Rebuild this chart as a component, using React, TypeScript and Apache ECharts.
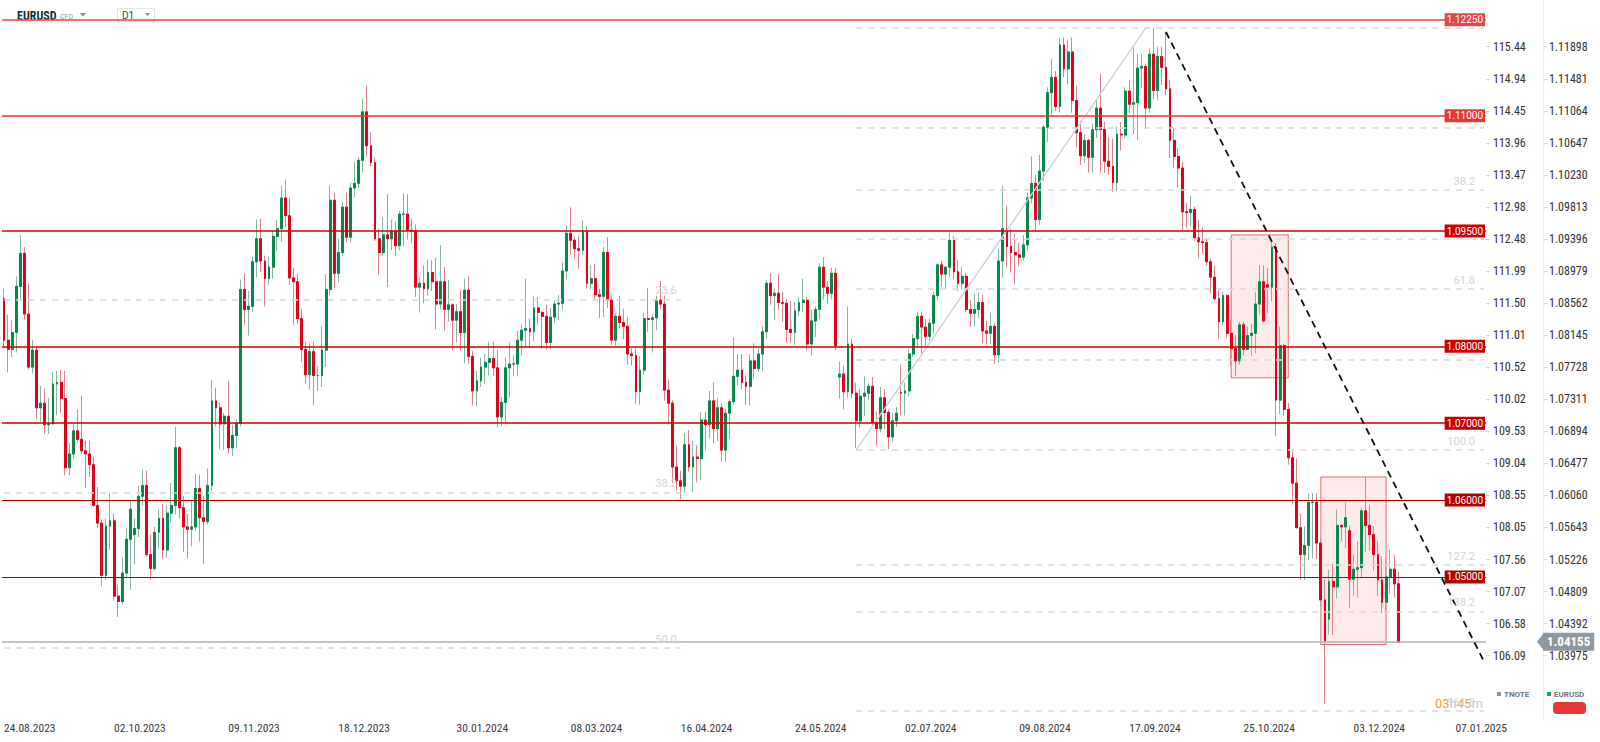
import React, { useEffect, useRef } from 'react';
import * as echarts from 'echarts';

// ---------- categories ----------
const START_DATE = '2023-08-24';
const MARKET_HOLIDAYS = ['2023-12-25', '2024-01-01'];
const FUTURE_SLOTS = 21;

// ---------- candles [open, close, low, high] ----------
const aug23 = [
  [1.0862, 1.0808, 1.0800, 1.0875], [1.0808, 1.0796, 1.0766, 1.0841], [1.0796, 1.0818, 1.0786, 1.0834],
  [1.0818, 1.0878, 1.0792, 1.0891], [1.0878, 1.0921, 1.0860, 1.0945], [1.0921, 1.0842, 1.0835, 1.0929],
];
const sep23 = [
  [1.0842, 1.0773, 1.0770, 1.0882], [1.0773, 1.0795, 1.0765, 1.0808], [1.0795, 1.0720, 1.0705, 1.0800],
  [1.0720, 1.0726, 1.0702, 1.0748], [1.0726, 1.0698, 1.0686, 1.0745], [1.0698, 1.0699, 1.0686, 1.0733],
  [1.0699, 1.0751, 1.0698, 1.0767], [1.0751, 1.0753, 1.0710, 1.0768], [1.0753, 1.0732, 1.0713, 1.0769],
  [1.0732, 1.0642, 1.0632, 1.0768], [1.0642, 1.0660, 1.0632, 1.0674], [1.0660, 1.0690, 1.0653, 1.0699],
  [1.0690, 1.0679, 1.0675, 1.0718], [1.0679, 1.0664, 1.0660, 1.0736], [1.0664, 1.0660, 1.0616, 1.0677],
  [1.0660, 1.0646, 1.0630, 1.0677], [1.0646, 1.0593, 1.0591, 1.0656], [1.0593, 1.0570, 1.0564, 1.0617],
  [1.0570, 1.0502, 1.0488, 1.0575], [1.0502, 1.0566, 1.0496, 1.0576], [1.0566, 1.0573, 1.0535, 1.0609],
];
const oct23 = [
  [1.0573, 1.0475, 1.0469, 1.0582], [1.0475, 1.0468, 1.0448, 1.0490], [1.0468, 1.0505, 1.0464, 1.0525],
  [1.0505, 1.0549, 1.0499, 1.0564], [1.0549, 1.0588, 1.0483, 1.0600], [1.0555, 1.0563, 1.0516, 1.0576],
  [1.0563, 1.0605, 1.0552, 1.0619], [1.0605, 1.0619, 1.0593, 1.0640], [1.0619, 1.0529, 1.0526, 1.0638],
  [1.0529, 1.0511, 1.0496, 1.0555], [1.0511, 1.0558, 1.0508, 1.0565], [1.0558, 1.0576, 1.0536, 1.0588],
  [1.0576, 1.0535, 1.0523, 1.0595], [1.0535, 1.0583, 1.0525, 1.0593], [1.0583, 1.0593, 1.0571, 1.0622],
  [1.0593, 1.0668, 1.0581, 1.0695], [1.0668, 1.0590, 1.0576, 1.0670], [1.0590, 1.0565, 1.0532, 1.0605],
  [1.0565, 1.0562, 1.0524, 1.0582], [1.0562, 1.0565, 1.0540, 1.0600], [1.0565, 1.0615, 1.0560, 1.0634],
  [1.0615, 1.0577, 1.0546, 1.0633],
];
const nov23 = [
  [1.0577, 1.0572, 1.0517, 1.0605], [1.0572, 1.0619, 1.0568, 1.0641], [1.0619, 1.0729, 1.0611, 1.0756],
  [1.0729, 1.0720, 1.0696, 1.0746], [1.0720, 1.0699, 1.0666, 1.0727], [1.0699, 1.0709, 1.0665, 1.0713],
  [1.0709, 1.0668, 1.0661, 1.0755], [1.0668, 1.0684, 1.0657, 1.0698], [1.0684, 1.0700, 1.0668, 1.0705],
  [1.0700, 1.0874, 1.0696, 1.0887], [1.0874, 1.0848, 1.0828, 1.0895], [1.0848, 1.0852, 1.0814, 1.0872],
  [1.0852, 1.0910, 1.0845, 1.0917], [1.0910, 1.0940, 1.0890, 1.0965], [1.0940, 1.0911, 1.0897, 1.0966],
  [1.0911, 1.0888, 1.0852, 1.0918], [1.0888, 1.0903, 1.0880, 1.0917], [1.0903, 1.0943, 1.0888, 1.0951],
  [1.0943, 1.0953, 1.0925, 1.0965], [1.0953, 1.0993, 1.0936, 1.1009], [1.0993, 1.0970, 1.0955, 1.1017],
  [1.0970, 1.0889, 1.0880, 1.0993],
];
const dec23 = [
  [1.0889, 1.0884, 1.0828, 1.0902], [1.0884, 1.0836, 1.0829, 1.0894], [1.0836, 1.0796, 1.0780, 1.0849],
  [1.0796, 1.0763, 1.0752, 1.0805], [1.0763, 1.0793, 1.0744, 1.0804], [1.0793, 1.0762, 1.0723, 1.0806],
  [1.0762, 1.0762, 1.0742, 1.0774], [1.0762, 1.0795, 1.0747, 1.0826], [1.0795, 1.0874, 1.0773, 1.0894],
  [1.0874, 1.0990, 1.0866, 1.1009], [1.0990, 1.0895, 1.0876, 1.1000], [1.0895, 1.0922, 1.0883, 1.0940],
  [1.0922, 1.0981, 1.0917, 1.0988], [1.0981, 1.0942, 1.0935, 1.1000], [1.0942, 1.1006, 1.0935, 1.1013],
  [1.1006, 1.1012, 1.0994, 1.1040], [1.1012, 1.1042, 1.1006, 1.1046], [1.1042, 1.1105, 1.1026, 1.1122],
  [1.1105, 1.1061, 1.1048, 1.1139], [1.1061, 1.1039, 1.1034, 1.1079],
];
const jan24 = [
  [1.1039, 1.0940, 1.0937, 1.1046], [1.0940, 1.0922, 1.0893, 1.0953], [1.0922, 1.0945, 1.0918, 1.0968],
  [1.0945, 1.0940, 1.0877, 1.0998], [1.0940, 1.0950, 1.0925, 1.0965], [1.0950, 1.0931, 1.0917, 1.0962],
  [1.0931, 1.0972, 1.0925, 1.0976], [1.0972, 1.0972, 1.0930, 1.0999], [1.0972, 1.0951, 1.0939, 1.0998],
  [1.0951, 1.0950, 1.0934, 1.0966], [1.0950, 1.0877, 1.0864, 1.0959], [1.0877, 1.0882, 1.0844, 1.0890],
  [1.0882, 1.0875, 1.0856, 1.0905], [1.0875, 1.0896, 1.0866, 1.0913], [1.0896, 1.0884, 1.0872, 1.0912],
  [1.0884, 1.0855, 1.0822, 1.0915], [1.0855, 1.0884, 1.0848, 1.0932], [1.0884, 1.0848, 1.0821, 1.0903],
  [1.0848, 1.0854, 1.0832, 1.0886], [1.0854, 1.0834, 1.0795, 1.0856], [1.0834, 1.0845, 1.0805, 1.0855],
  [1.0845, 1.0818, 1.0795, 1.0873],
];
const feb24 = [
  [1.0818, 1.0873, 1.0778, 1.0888], [1.0873, 1.0787, 1.0777, 1.0891], [1.0787, 1.0742, 1.0723, 1.0794],
  [1.0742, 1.0755, 1.0722, 1.0768], [1.0755, 1.0773, 1.0747, 1.0785], [1.0773, 1.0779, 1.0751, 1.0790],
  [1.0779, 1.0784, 1.0762, 1.0806], [1.0784, 1.0772, 1.0761, 1.0806], [1.0772, 1.0708, 1.0695, 1.0795],
  [1.0708, 1.0727, 1.0696, 1.0734], [1.0727, 1.0772, 1.0701, 1.0785], [1.0772, 1.0777, 1.0733, 1.0805],
  [1.0777, 1.0777, 1.0761, 1.0789], [1.0777, 1.0808, 1.0761, 1.0820], [1.0808, 1.0821, 1.0788, 1.0828],
  [1.0821, 1.0823, 1.0800, 1.0888], [1.0823, 1.0819, 1.0798, 1.0836], [1.0819, 1.0850, 1.0806, 1.0865],
  [1.0850, 1.0844, 1.0828, 1.0864], [1.0844, 1.0839, 1.0797, 1.0846], [1.0839, 1.0805, 1.0796, 1.0854],
];
const mar24 = [
  [1.0805, 1.0838, 1.0796, 1.0850], [1.0838, 1.0855, 1.0830, 1.0860], [1.0855, 1.0856, 1.0834, 1.0867],
  [1.0856, 1.0898, 1.0847, 1.0909], [1.0898, 1.0947, 1.0887, 1.0957], [1.0947, 1.0938, 1.0919, 1.0981],
  [1.0938, 1.0927, 1.0914, 1.0943], [1.0927, 1.0925, 1.0901, 1.0943], [1.0925, 1.0949, 1.0919, 1.0964],
  [1.0949, 1.0882, 1.0875, 1.0956], [1.0882, 1.0888, 1.0874, 1.0906], [1.0888, 1.0867, 1.0860, 1.0907],
  [1.0867, 1.0865, 1.0837, 1.0875], [1.0865, 1.0922, 1.0838, 1.0929], [1.0922, 1.0860, 1.0850, 1.0942],
  [1.0860, 1.0808, 1.0802, 1.0867], [1.0808, 1.0839, 1.0801, 1.0843], [1.0839, 1.0831, 1.0823, 1.0866],
  [1.0831, 1.0826, 1.0809, 1.0849], [1.0826, 1.0790, 1.0776, 1.0838], [1.0790, 1.0788, 1.0775, 1.0797],
];
const apr24 = [
  [1.0788, 1.0741, 1.0725, 1.0797], [1.0741, 1.0769, 1.0724, 1.0787], [1.0769, 1.0836, 1.0763, 1.0844],
  [1.0836, 1.0835, 1.0819, 1.0876], [1.0835, 1.0837, 1.0792, 1.0842], [1.0837, 1.0860, 1.0821, 1.0866],
  [1.0860, 1.0855, 1.0848, 1.0885], [1.0855, 1.0743, 1.0729, 1.0866], [1.0743, 1.0726, 1.0698, 1.0757],
  [1.0726, 1.0643, 1.0622, 1.0730], [1.0643, 1.0625, 1.0613, 1.0671], [1.0625, 1.0618, 1.0601, 1.0638],
  [1.0618, 1.0672, 1.0609, 1.0687], [1.0672, 1.0643, 1.0637, 1.0691], [1.0643, 1.0656, 1.0610, 1.0677],
  [1.0656, 1.0654, 1.0623, 1.0671], [1.0654, 1.0704, 1.0626, 1.0714], [1.0704, 1.0698, 1.0665, 1.0715],
  [1.0698, 1.0729, 1.0680, 1.0742], [1.0729, 1.0693, 1.0674, 1.0753], [1.0693, 1.0720, 1.0677, 1.0733],
  [1.0720, 1.0665, 1.0650, 1.0726],
];
const may24 = [
  [1.0665, 1.0713, 1.0650, 1.0719], [1.0713, 1.0728, 1.0680, 1.0731], [1.0728, 1.0761, 1.0724, 1.0812],
  [1.0761, 1.0769, 1.0749, 1.0790], [1.0769, 1.0753, 1.0744, 1.0790], [1.0753, 1.0748, 1.0724, 1.0762],
  [1.0748, 1.0781, 1.0723, 1.0790], [1.0781, 1.0771, 1.0758, 1.0804], [1.0771, 1.0790, 1.0767, 1.0797],
  [1.0790, 1.0819, 1.0768, 1.0826], [1.0819, 1.0882, 1.0810, 1.0886], [1.0882, 1.0866, 1.0854, 1.0895],
  [1.0866, 1.0869, 1.0834, 1.0876], [1.0869, 1.0857, 1.0847, 1.0894], [1.0857, 1.0856, 1.0832, 1.0871],
  [1.0856, 1.0822, 1.0805, 1.0862], [1.0822, 1.0818, 1.0804, 1.0859], [1.0818, 1.0846, 1.0802, 1.0858],
  [1.0846, 1.0857, 1.0840, 1.0864], [1.0857, 1.0860, 1.0845, 1.0888], [1.0860, 1.0803, 1.0795, 1.0864],
  [1.0803, 1.0833, 1.0788, 1.0848], [1.0833, 1.0848, 1.0812, 1.0852],
];
const jun24 = [
  [1.0848, 1.0903, 1.0835, 1.0908], [1.0903, 1.0877, 1.0861, 1.0916], [1.0877, 1.0869, 1.0855, 1.0885],
  [1.0869, 1.0895, 1.0861, 1.0902], [1.0895, 1.0801, 1.0795, 1.0902], [1.0760, 1.0764, 1.0732, 1.0780],
  [1.0764, 1.0741, 1.0718, 1.0775], [1.0741, 1.0803, 1.0733, 1.0852], [1.0803, 1.0739, 1.0733, 1.0810],
  [1.0739, 1.0703, 1.0668, 1.0753], [1.0703, 1.0735, 1.0694, 1.0745], [1.0735, 1.0739, 1.0709, 1.0761],
  [1.0739, 1.0748, 1.0730, 1.0752], [1.0748, 1.0701, 1.0697, 1.0760], [1.0701, 1.0693, 1.0671, 1.0715],
  [1.0693, 1.0733, 1.0688, 1.0747], [1.0733, 1.0714, 1.0693, 1.0744], [1.0714, 1.0682, 1.0666, 1.0718],
  [1.0682, 1.0703, 1.0676, 1.0713], [1.0703, 1.0713, 1.0695, 1.0721],
];
const jul24 = [
  [1.0740, 1.0739, 1.0710, 1.0776], [1.0739, 1.0742, 1.0710, 1.0753], [1.0742, 1.0790, 1.0735, 1.0796],
  [1.0790, 1.0810, 1.0786, 1.0816], [1.0810, 1.0839, 1.0798, 1.0845], [1.0839, 1.0825, 1.0790, 1.0845],
  [1.0825, 1.0813, 1.0800, 1.0835], [1.0813, 1.0830, 1.0807, 1.0836], [1.0830, 1.0866, 1.0816, 1.0871],
  [1.0866, 1.0906, 1.0860, 1.0908], [1.0906, 1.0894, 1.0878, 1.0911], [1.0894, 1.0903, 1.0874, 1.0904],
  [1.0903, 1.0938, 1.0890, 1.0948], [1.0938, 1.0897, 1.0887, 1.0944], [1.0897, 1.0882, 1.0872, 1.0912],
  [1.0882, 1.0891, 1.0874, 1.0904], [1.0891, 1.0848, 1.0844, 1.0895], [1.0848, 1.0843, 1.0825, 1.0860],
  [1.0843, 1.0848, 1.0826, 1.0868], [1.0848, 1.0857, 1.0837, 1.0870], [1.0857, 1.0820, 1.0804, 1.0867],
  [1.0820, 1.0817, 1.0802, 1.0833], [1.0817, 1.0826, 1.0803, 1.0844],
];
const aug24 = [
  [1.0826, 1.0789, 1.0777, 1.0830], [1.0789, 1.0911, 1.0779, 1.0927], [1.0911, 1.0953, 1.0889, 1.1009],
  [1.0953, 1.0930, 1.0903, 1.0983], [1.0930, 1.0922, 1.0896, 1.0953], [1.0922, 1.0919, 1.0881, 1.0946],
  [1.0919, 1.0916, 1.0904, 1.0935], [1.0916, 1.0932, 1.0911, 1.0945], [1.0932, 1.0993, 1.0925, 1.1000],
  [1.0993, 1.1012, 1.0986, 1.1047], [1.1012, 1.0965, 1.0949, 1.1023], [1.0965, 1.1028, 1.0958, 1.1049],
  [1.1028, 1.1085, 1.1015, 1.1088], [1.1085, 1.1130, 1.1066, 1.1137], [1.1130, 1.1150, 1.1099, 1.1174],
  [1.1150, 1.1112, 1.1106, 1.1158], [1.1112, 1.1192, 1.1104, 1.1201], [1.1192, 1.1161, 1.1150, 1.1202],
  [1.1161, 1.1183, 1.1141, 1.1199], [1.1183, 1.1120, 1.1104, 1.1202], [1.1120, 1.1078, 1.1059, 1.1139],
  [1.1078, 1.1048, 1.1036, 1.1093],
];
const sep24 = [
  [1.1048, 1.1068, 1.1039, 1.1076], [1.1068, 1.1046, 1.1026, 1.1070], [1.1046, 1.1082, 1.1026, 1.1090],
  [1.1082, 1.1110, 1.1071, 1.1120], [1.1110, 1.1082, 1.1026, 1.1155], [1.1082, 1.1041, 1.1026, 1.1092],
  [1.1041, 1.1034, 1.1023, 1.1072], [1.1034, 1.1013, 1.1001, 1.1070], [1.1013, 1.1076, 1.1002, 1.1086],
  [1.1076, 1.1075, 1.1055, 1.1092], [1.1075, 1.1132, 1.1071, 1.1137], [1.1132, 1.1115, 1.1103, 1.1146],
  [1.1115, 1.1117, 1.1076, 1.1189], [1.1117, 1.1162, 1.1068, 1.1180], [1.1162, 1.1164, 1.1136, 1.1180],
  [1.1164, 1.1110, 1.1083, 1.1168], [1.1110, 1.1180, 1.1104, 1.1188], [1.1180, 1.1133, 1.1122, 1.1214],
  [1.1133, 1.1177, 1.1120, 1.1190], [1.1177, 1.1163, 1.1140, 1.1190], [1.1163, 1.1135, 1.1127, 1.1209],
];
const oct24 = [
  [1.1135, 1.1068, 1.1045, 1.1147], [1.1068, 1.1047, 1.1032, 1.1084], [1.1047, 1.1032, 1.1007, 1.1058],
  [1.1032, 1.0975, 1.0951, 1.1040], [1.0975, 1.0974, 1.0954, 1.0987], [1.0974, 1.0978, 1.0956, 1.0996],
  [1.0978, 1.0941, 1.0937, 1.0982], [1.0941, 1.0936, 1.0915, 1.0964], [1.0936, 1.0935, 1.0920, 1.0955],
  [1.0935, 1.0910, 1.0905, 1.0941], [1.0910, 1.0890, 1.0869, 1.0914], [1.0890, 1.0862, 1.0860, 1.0905],
  [1.0862, 1.0832, 1.0810, 1.0873], [1.0832, 1.0866, 1.0827, 1.0871], [1.0866, 1.0817, 1.0811, 1.0868],
  [1.0817, 1.0797, 1.0775, 1.0835], [1.0797, 1.0781, 1.0761, 1.0815], [1.0781, 1.0828, 1.0776, 1.0832],
  [1.0828, 1.0796, 1.0788, 1.0832], [1.0796, 1.0814, 1.0795, 1.0826], [1.0814, 1.0817, 1.0788, 1.0829],
  [1.0817, 1.0855, 1.0791, 1.0871], [1.0855, 1.0884, 1.0842, 1.0906],
];
const nov24 = [
  [1.0884, 1.0833, 1.0831, 1.0905], [1.0880, 1.0877, 1.0843, 1.0902], [1.0877, 1.0929, 1.0859, 1.0937],
  [1.0929, 1.0730, 1.0683, 1.0934], [1.0730, 1.0801, 1.0712, 1.0826], [1.0801, 1.0718, 1.0710, 1.0803],
  [1.0718, 1.0655, 1.0646, 1.0726], [1.0655, 1.0622, 1.0594, 1.0664], [1.0622, 1.0564, 1.0563, 1.0654],
  [1.0564, 1.0529, 1.0496, 1.0582], [1.0529, 1.0541, 1.0496, 1.0566], [1.0541, 1.0597, 1.0522, 1.0608],
  [1.0597, 1.0597, 1.0524, 1.0609], [1.0597, 1.0544, 1.0523, 1.0609], [1.0544, 1.0470, 1.0462, 1.0550],
  [1.0470, 1.0417, 1.0335, 1.0497], [1.0445, 1.0494, 1.0425, 1.0509], [1.0494, 1.0487, 1.0424, 1.0517],
  [1.0487, 1.0567, 1.0472, 1.0588], [1.0567, 1.0565, 1.0547, 1.0568], [1.0565, 1.0577, 1.0538, 1.0597],
];
const dec24 = [
  [1.0560, 1.0497, 1.0460, 1.0567], [1.0497, 1.0510, 1.0475, 1.0529], [1.0510, 1.0512, 1.0473, 1.0546],
  [1.0512, 1.0586, 1.0498, 1.0590], [1.0586, 1.0567, 1.0533, 1.0630], [1.0567, 1.0555, 1.0534, 1.0594],
  [1.0555, 1.0529, 1.0508, 1.0566], [1.0529, 1.0496, 1.0475, 1.0546], [1.0496, 1.0467, 1.0453, 1.0527],
  [1.0467, 1.0500, 1.0453, 1.0524], [1.0500, 1.0510, 1.0478, 1.0535], [1.0510, 1.0491, 1.0473, 1.0529],
  [1.0491, 1.0415, 1.0414, 1.0507],
];

const candles = [
  ...aug23, ...sep23, ...oct23, ...nov23, ...dec23, ...jan24, ...feb24, ...mar24, ...apr24,
  ...may24, ...jun24, ...jul24, ...aug24, ...sep24, ...oct24, ...nov24, ...dec24,
];

// ---------- axes ----------
const xLabels = [
  '24.08.2023', '02.10.2023', '09.11.2023', '18.12.2023', '30.01.2024', '08.03.2024', '16.04.2024',
  '24.05.2024', '02.07.2024', '09.08.2024', '17.09.2024', '25.10.2024', '03.12.2024', '07.01.2025',
];
const eurusdTicks = [
  1.11898, 1.11481, 1.11064, 1.10647, 1.1023, 1.09813, 1.09396, 1.08979, 1.08562, 1.08145,
  1.07728, 1.07311, 1.06894, 1.06477, 1.0606, 1.05643, 1.05226, 1.04809, 1.04392, 1.03975,
];
const tnoteLabels = [
  '115.44', '114.94', '114.45', '113.96', '113.47', '112.98', '112.48', '111.99', '111.50', '111.01',
  '110.52', '110.02', '109.53', '109.04', '108.55', '108.05', '107.56', '107.07', '106.58', '106.09',
];
const Y_MIN = 1.03164;
const Y_MAX = 1.12506;

// ---------- drawings ----------
const levels = [1.1225, 1.11, 1.095, 1.08, 1.07, 1.06, 1.05];
const levelColors = ['#e8474a', '#e53935', '#d10000', '#cc0000', '#cc0000', '#b30000', '#b00000'];
const levelWidths = [1.5, 1.5, 1.5, 1.5, 1.5, 1, 1];
const lastPrice = 1.04155;

// fib levels (labels of those hidden under the level tags are left empty)
const fibRightNames = ['', '', '38.2', '', '61.8', '', '100.0', '127.2', '138.2', '161.8'];
const fibRightValues = [1.1214, 1.1085, 1.1004, 1.0940, 1.0875, 1.0783, 1.0665, 1.0516, 1.0455, 1.0326];
const fibRightSpan = ['14.06.2024', '16.01.2025'];
const fibLeftNames = ['23.6', '38.2', '50.0'];
const fibLeftValues = [1.0861, 1.0610, 1.0408];
const fibLeftSpan = ['24.08.2023', '16.04.2024'];
const swingLine = [['14.06.2024', 1.0665], ['23.09.2024', 1.1214]];
const trendLine = [['30.09.2024', 1.1209], ['16.01.2025', 1.0390]];
const boxes = [
  [['22.10.2024', 1.0945], ['11.11.2024', 1.0759]],
  [['21.11.2024', 1.0630], ['13.12.2024', 1.0412]],
];

const NARROW = "'Liberation Sans Narrow', 'Arial Narrow', 'Roboto Condensed', Roboto, sans-serif";

function fmtDate(d: Date) {
  const dd = String(d.getUTCDate()).padStart(2, '0');
  const mm = String(d.getUTCMonth() + 1).padStart(2, '0');
  return `${dd}.${mm}.${d.getUTCFullYear()}`;
}

function buildDates(n: number) {
  const out: string[] = [];
  const d = new Date(START_DATE + 'T12:00:00Z');
  while (out.length < n) {
    const dow = d.getUTCDay();
    const iso = d.toISOString().slice(0, 10);
    if (dow !== 0 && dow !== 6 && !MARKET_HOLIDAYS.includes(iso)) out.push(fmtDate(d));
    d.setUTCDate(d.getUTCDate() + 1);
  }
  return out;
}

export default function App() {
  const ref = useRef<HTMLDivElement>(null);

  useEffect(() => {
    if (!ref.current) return;
    const chart = echarts.init(ref.current, null, { renderer: 'svg' });
    const dates = buildDates(candles.length + FUTURE_SLOTS);

    const tnoteFmt = (v: number) => {
      let best = 0;
      for (let i = 0; i < eurusdTicks.length; i++) {
        if (Math.abs(eurusdTicks[i] - v) < Math.abs(eurusdTicks[best] - v)) best = i;
      }
      return tnoteLabels[best];
    };

    const fibLine = (span: string[], v: number, name: string, dist: number[]) => [
      {
        coord: [span[0], v],
        lineStyle: { color: '#d3dae0', width: 1.5, type: [6, 6] },
        label: {
          show: name !== '', position: 'insideEndTop', formatter: name, color: '#cdd4da',
          fontSize: 11, fontFamily: 'Roboto', distance: dist,
        },
      },
      { coord: [span[1], v] },
    ];

    const option: any = {
      animation: false,
      backgroundColor: '#ffffff',
      grid: { left: 2, right: 114, top: 0, bottom: 24, containLabel: false },
      xAxis: {
        type: 'category',
        data: dates,
        boundaryGap: true,
        axisLine: { show: false },
        axisTick: { show: false },
        splitLine: { show: false },
        axisLabel: {
          interval: (_i: number, val: string) => xLabels.includes(val),
          align: 'left',
          color: '#3a3a3a',
          fontSize: 11.5,
          fontFamily: NARROW,
          margin: 4,
          hideOverlap: false,
        },
      },
      yAxis: [
        {
          type: 'value',
          position: 'right',
          offset: 57,
          min: Y_MIN,
          max: Y_MAX,
          splitLine: { show: false },
          axisLine: { show: true, lineStyle: { color: '#eceff1', width: 1 } },
          axisTick: { show: true, length: 4, customValues: eurusdTicks, lineStyle: { color: '#d5d9dd' } },
          axisLabel: {
            customValues: eurusdTicks,
            formatter: (v: number) => v.toFixed(5),
            color: '#333',
            fontSize: 12,
            fontFamily: NARROW,
            margin: 6,
          },
        },
        {
          type: 'value',
          position: 'right',
          offset: 0,
          min: Y_MIN,
          max: Y_MAX,
          splitLine: { show: false },
          axisLine: { show: false },
          axisTick: { show: true, length: 4, customValues: eurusdTicks, lineStyle: { color: '#d5d9dd' } },
          axisLabel: {
            customValues: eurusdTicks,
            formatter: tnoteFmt,
            color: '#333',
            fontSize: 12,
            fontFamily: NARROW,
            margin: 7,
          },
        },
      ],
      series: [
        {
          name: 'fibs',
          type: 'line',
          data: [],
          silent: true,
          markLine: {
            silent: true,
            precision: 6,
            symbol: ['none', 'none'],
            data: [
              ...fibRightValues.map((v, i) => fibLine(fibRightSpan, v, fibRightNames[i], [9, 3])),
              ...fibLeftValues.map((v, i) => fibLine(fibLeftSpan, v, fibLeftNames[i], [4, 3])),
              [
                { coord: swingLine[0], lineStyle: { color: '#ccd3d9', width: 1.5, type: 'solid' }, label: { show: false } },
                { coord: swingLine[1] },
              ],
            ],
          },
        },
        {
          name: 'wicks',
          type: 'candlestick',
          data: candles.map(([o, c, l, h]) => [o, c, l, h]),
          barWidth: 2.4,
          silent: true,
          itemStyle: {
            color: 'rgba(0,0,0,0)', color0: 'rgba(0,0,0,0)',
            borderColor: '#86b79f', borderColor0: '#e2808b', borderColorDoji: '#9aa', borderWidth: 1,
          },
          markArea: {
            silent: true,
            itemStyle: { color: 'rgba(236,90,90,0.13)', borderColor: 'rgba(226,60,60,0.75)', borderWidth: 1 },
            data: boxes.map((b) => [
              { xAxis: b[0][0], yAxis: b[0][1] },
              { xAxis: b[1][0], yAxis: b[1][1] },
            ]),
          },
        },
        {
          name: 'bodies',
          type: 'candlestick',
          data: candles.map(([o, c]) => [o, c, Math.min(o, c), Math.max(o, c)]),
          barWidth: 2.4,
          silent: true,
          itemStyle: {
            color: '#08884c', color0: '#e2001a',
            borderColor: '#08884c', borderColor0: '#e2001a', borderColorDoji: '#555', borderWidth: 1,
          },
        },
        {
          name: 'levels',
          type: 'line',
          data: [],
          silent: true,
          markLine: {
            silent: true,
            precision: 6,
            symbol: ['none', 'none'],
            data: [
              ...levels.map((v, i) => ({
                yAxis: v,
                lineStyle: { color: levelColors[i], width: levelWidths[i], type: 'solid' },
                label: {
                  show: true, position: 'insideEnd', distance: 1, formatter: v.toFixed(5),
                  backgroundColor: levelColors[i], color: '#fff', fontSize: 10, fontFamily: 'Roboto',
                  padding: [2, 2, 1, 2],
                },
              })),
              {
                yAxis: lastPrice,
                lineStyle: { color: '#aab3ba', width: 1.5, type: 'solid' },
                label: {
                  show: true, position: 'end', distance: 57, formatter: lastPrice.toFixed(5),
                  backgroundColor: '#8e989f', color: '#fff', fontSize: 13, fontWeight: 'bold',
                  fontFamily: NARROW, padding: [3, 4, 2, 4],
                },
              },
              [
                { coord: trendLine[0], lineStyle: { color: '#111', width: 1.8, type: [7, 5] }, label: { show: false } },
                { coord: trendLine[1] },
              ],
            ],
          },
        },
      ],
      graphic: [
        {
          id: 't1', type: 'text', left: 17, top: 10,
          style: { text: 'EURUSD', fontSize: 12, fontWeight: 'bold', fontFamily: NARROW, fill: '#1d2a3a' },
        },
        {
          id: 't2', type: 'text', left: 60, top: 13,
          style: { text: 'CFD', fontSize: 7, fontFamily: 'Roboto', fill: '#8b96a0' },
        },
        { id: 't3', type: 'polygon', shape: { points: [[80, 13], [86, 13], [83, 16.5]] }, style: { fill: '#7d8790' } },
        { id: 't4', type: 'rect', shape: { x: 117.5, y: 8.5, width: 37, height: 13 }, style: { fill: '#fff', stroke: '#e3e6e9' } },
        { id: 't5', type: 'text', left: 122, top: 10, style: { text: 'D1', fontSize: 10, fontFamily: 'Roboto', fill: '#3b4650' } },
        { id: 't6', type: 'polygon', shape: { points: [[145, 13], [150, 13], [147.5, 16]] }, style: { fill: '#7d8790' } },
        { id: 'l1', type: 'rect', shape: { x: 1497, y: 692, width: 4, height: 4 }, style: { fill: '#8d99a5' } },
        { id: 'l2', type: 'text', left: 1504, top: 690, style: { text: 'TNOTE', fontSize: 8, fontWeight: 'bold', fontFamily: 'Roboto', fill: '#6b7785' } },
        { id: 'l3', type: 'rect', shape: { x: 1547, y: 692, width: 4, height: 4 }, style: { fill: '#1aa260' } },
        { id: 'l4', type: 'text', left: 1554, top: 690, style: { text: 'EURUSD', fontSize: 8, fontWeight: 'bold', fontFamily: 'Roboto', fill: '#6b7785' } },
        { id: 'l5', type: 'rect', shape: { x: 1553, y: 702, width: 33, height: 12, r: 4 }, style: { fill: '#e53935' } },
        {
          id: 'cd', type: 'text', left: 1435, top: 697,
          style: {
            text: '{a|03}{b|h}{a|45}{b|m}',
            rich: {
              a: { fill: '#f5a623', fontSize: 13, fontFamily: 'Roboto' },
              b: { fill: '#c4c8cc', fontSize: 13, fontFamily: 'Roboto' },
            },
          },
        },
      ],
    };

    chart.setOption(option);
    const py = chart.convertToPixel({ yAxisIndex: 0 }, lastPrice) as number;
    chart.setOption({
      graphic: [
        { id: 'arrow', type: 'polygon', shape: { points: [[1537, py], [1544, py - 9], [1544, py + 9]] }, style: { fill: '#8e989f' } },
      ],
    });

    return () => chart.dispose();
  }, []);

  return (
    <div
      ref={ref}
      style={{ position: 'absolute', left: 0, top: 0, width: 1600, height: 742, background: '#fff' }}
    />
  );
}
